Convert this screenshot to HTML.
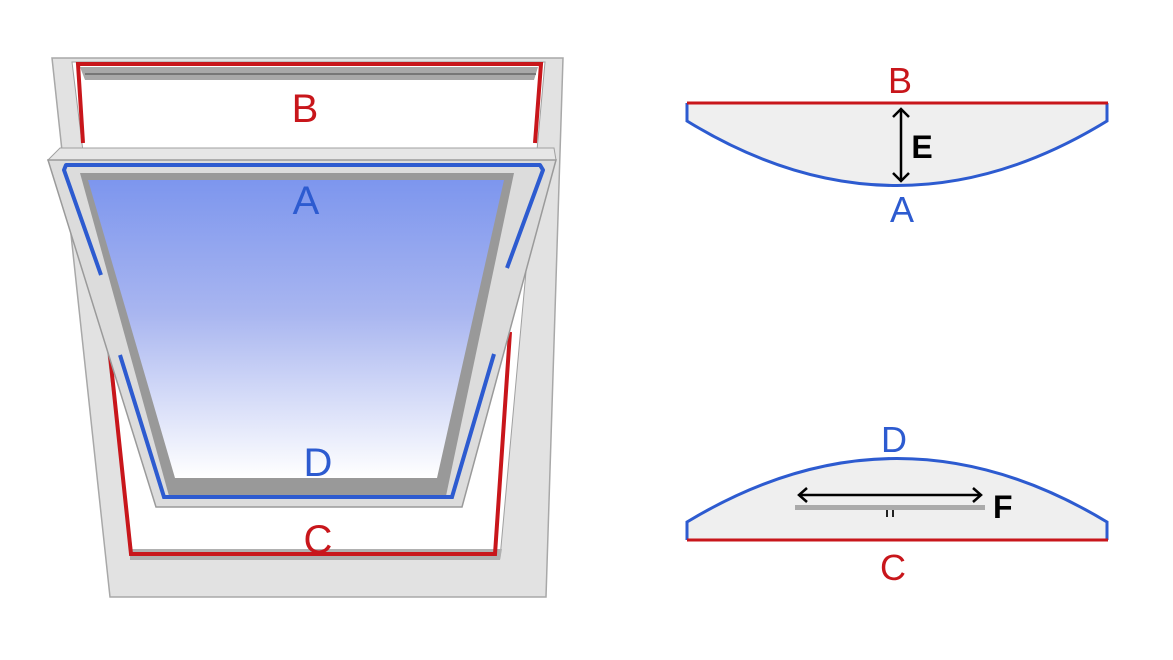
<!DOCTYPE html>
<html><head><meta charset="utf-8"><style>html,body{margin:0;padding:0;background:#fff;width:1173px;height:660px;overflow:hidden}</style></head>
<body>
<svg width="1173" height="660" viewBox="0 0 1173 660" xmlns="http://www.w3.org/2000/svg" font-family="Liberation Sans, DejaVu Sans, sans-serif">
<defs>
<linearGradient id="g" x1="0" y1="0" x2="0" y2="1">
<stop offset="0" stop-color="#7d96ee"/><stop offset="0.45" stop-color="#a9b6f0"/><stop offset="1" stop-color="#ffffff"/>
</linearGradient>
</defs>
<path d="M52,58 L563,58 L546,597 L110,597 Z" fill="#e2e2e2" stroke="#a8a8a8" stroke-width="1.5"/>
<path d="M72,62 L545,62 L500,558 L133,558 Z" fill="#fff" stroke="#a0a0a0" stroke-width="1"/>
<path d="M80,67 L538,67 L534,80 L85,80 Z" fill="#a8a8a8"/>
<line x1="85" y1="74" x2="536" y2="74" stroke="#777" stroke-width="2"/>
<path d="M130,549 L502,549 L500,560 L130,560 Z" fill="#b0b0b0"/>
<polyline points="83,143 78,64 541,64 535,143" fill="none" stroke="#c8161b" stroke-width="4"/>
<polyline points="110,355 131,554 495,554 510,332" fill="none" stroke="#c8161b" stroke-width="4"/>
<path d="M60,148 L554,148 L556,160 L48,160 Z" fill="#e6e6e6" stroke="#a0a0a0" stroke-width="1"/>
<path d="M48,160 L556,160 L462,507 L156,507 Z" fill="#dcdcdc" stroke="#9a9a9a" stroke-width="1.5"/>
<path d="M80,173 L514,173 L446,496 L169,496 Z" fill="#999" />
<path d="M88,180 L504,180 L437,478 L175,478 Z" fill="url(#g)"/>
<polyline points="101,275 64,170 66,165 540,165 543,170 507,268" fill="none" stroke="#2d5bd0" stroke-width="4" stroke-linejoin="round"/>
<polyline points="120,355 164,497 452,497 494,354" fill="none" stroke="#2d5bd0" stroke-width="4"/>
<g font-size="40" text-anchor="middle">
<text x="305" y="122" fill="#c8161b">B</text>
<text x="306" y="214" fill="#2d5bd0">A</text>
<text x="318" y="476" fill="#2d5bd0">D</text>
<text x="318" y="553" fill="#c8161b">C</text>
</g>
<path d="M687,103 L1107,103 L1107,121 Q897,250 687,121 Z" fill="#efefef"/>
<path d="M687,103 L687,121 Q897,250 1107,121 L1107,103" fill="none" stroke="#2d5bd0" stroke-width="3"/>
<line x1="687" y1="103" x2="1108" y2="103" stroke="#c8161b" stroke-width="3"/>
<line x1="901" y1="110" x2="901" y2="180" stroke="#000" stroke-width="2.5"/>
<polyline points="893,117 901,109 909,117" fill="none" stroke="#000" stroke-width="2.5"/>
<polyline points="893,173 901,181 909,173" fill="none" stroke="#000" stroke-width="2.5"/>
<g font-size="36" text-anchor="middle">
<text x="900" y="93" fill="#c8161b">B</text>
<text x="902" y="222" fill="#2d5bd0">A</text>
<text x="894" y="452" fill="#2d5bd0">D</text>
<text x="893" y="580" fill="#c8161b">C</text>
</g>
<text x="922" y="158" fill="#000" font-weight="bold" font-size="32" text-anchor="middle">E</text>
<path d="M687,540 L1107,540 L1107,522 Q897,395 687,522 Z" fill="#efefef"/>
<path d="M687,540 L687,522 Q897,395 1107,522 L1107,540" fill="none" stroke="#2d5bd0" stroke-width="3"/>
<line x1="687" y1="540" x2="1108" y2="540" stroke="#c8161b" stroke-width="3"/>
<rect x="795" y="505" width="190" height="5" fill="#aaa"/>
<line x1="799" y1="495" x2="981" y2="495" stroke="#000" stroke-width="2.5"/>
<polyline points="807,488 799,495 807,502" fill="none" stroke="#000" stroke-width="2.5"/>
<polyline points="973,488 981,495 973,502" fill="none" stroke="#000" stroke-width="2.5"/>
<rect x="886" y="510" width="2" height="7" fill="#222"/><rect x="892" y="510" width="2" height="7" fill="#222"/>
<text x="993" y="518" fill="#000" font-weight="bold" font-size="32">F</text>
</svg>
</body></html>
